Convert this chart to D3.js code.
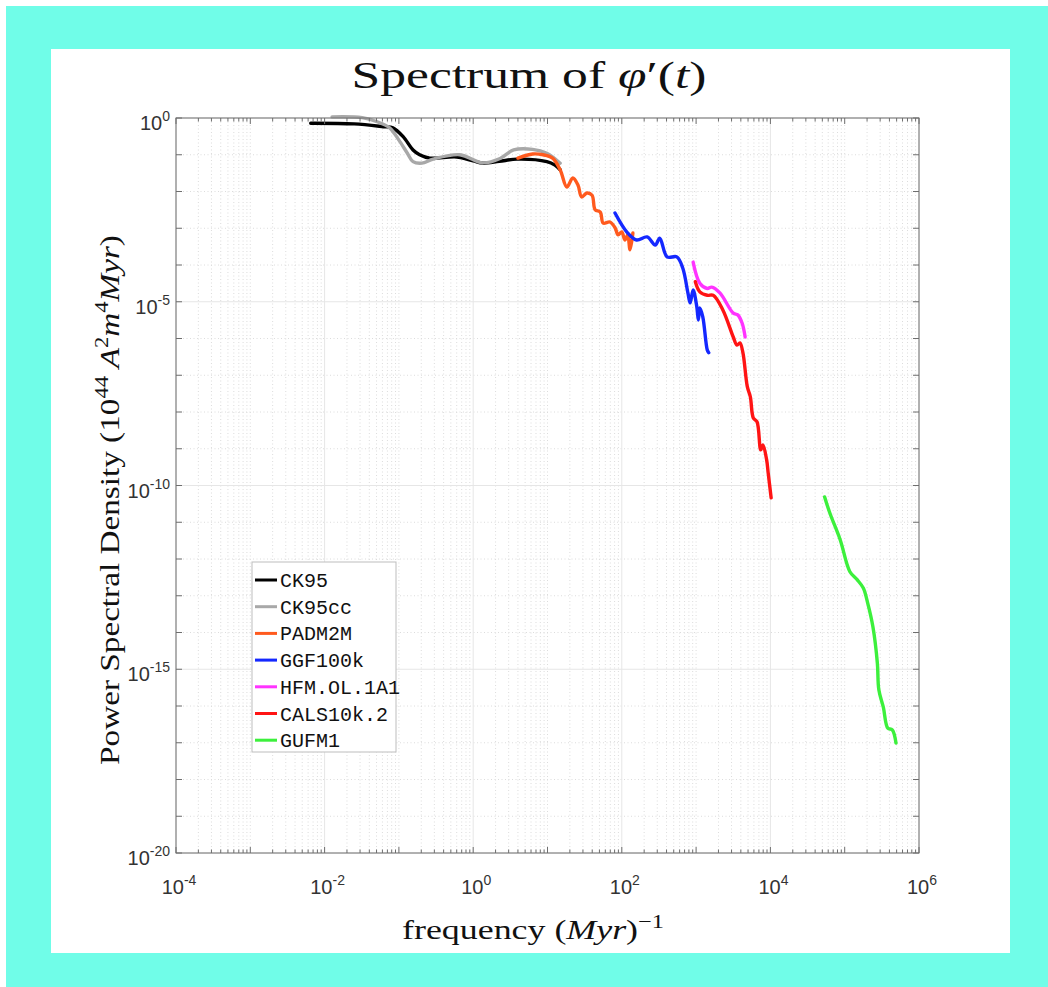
<!DOCTYPE html>
<html>
<head>
<meta charset="utf-8">
<script src="https://cdn.jsdelivr.net/npm/d3@7"></script>
<style>
  html, body { margin: 0; padding: 0; background: #fff; }
  svg { display: block; }
</style>
</head>
<body>
<svg id="chart"></svg>
<script>
// values (frequency in 1/Myr, PSD)
const seriesNames = ["CK95", "CK95cc", "PADM2M", "GGF100k", "HFM.OL.1A1", "CALS10k.2", "GUFM1"];
const seriesColors = ["#000000", "#a8a8a8", "#ff5a1e", "#1428ff", "#ff33ff", "#ff1414", "#3cf03c"];

const freqCK95 = [0.0065, 0.025, 0.062, 0.083, 0.114, 0.155, 0.19, 0.26, 0.6, 1.0, 1.35, 2.24, 3.9, 9.8, 12.6, 14.8];
const psdCK95  = [0.72, 0.69, 0.58, 0.54, 0.31, 0.135, 0.1, 0.081, 0.087, 0.068, 0.059, 0.066, 0.076, 0.065, 0.052, 0.039];

const freqCK95cc = [0.0126, 0.032, 0.051, 0.075, 0.1, 0.13, 0.155, 0.204, 0.29, 0.66, 1.35, 2.3, 3.5, 6.3, 9.8, 14.8];
const psdCK95cc  = [1.07, 1.02, 0.79, 0.54, 0.25, 0.11, 0.065, 0.059, 0.076, 0.1, 0.06, 0.079, 0.135, 0.14, 0.11, 0.059];

const freqPADM2M = [4.0, 6.3, 8.7, 11.7, 14.8, 18.2, 21.9, 25.7, 28.8, 33.9, 39.8, 43.7, 51.3, 56.2, 69.2, 81.3, 89.1, 100, 110, 120, 129, 141];
const psdPADM2M  = [0.081, 0.105, 0.10, 0.081, 0.039, 0.0132, 0.0234, 0.0151, 0.0071, 0.0091, 0.0079, 0.0032, 0.00275, 0.00138, 0.00148, 0.00102, 0.00066, 0.00079, 0.00048, 0.00066, 0.00026, 0.00074];

const freqGGF100k = [81, 117, 158, 219, 282, 324, 407, 550, 661, 776, 832, 912, 1023, 1072, 1122, 1230, 1413, 1479];
const psdGGF100k  = [0.0026, 0.00079, 0.00048, 0.00058, 0.00035, 0.00054, 0.000166, 0.000166, 8.3e-5, 1.74e-5, 9.3e-6, 2.1e-5, 7.2e-6, 3.2e-6, 6.8e-6, 3.9e-6, 4.9e-7, 4.1e-7];

const freqHFM = [912, 1122, 1413, 1622, 2089, 3162, 3631, 4169, 4571];
const psdHFM  = [1.2e-4, 3.2e-5, 2.3e-5, 2.5e-5, 1.74e-5, 4.9e-6, 4.4e-6, 2.6e-6, 1.1e-6];

const freqCALS = [977, 1122, 1413, 1698, 2291, 3162, 3548, 3890, 4266, 4898, 5370, 5888, 6607, 7413, 7943, 8913, 9333, 10233];
const psdCALS  = [3.5e-5, 1.86e-5, 1.5e-5, 1.5e-5, 6.0e-6, 1.1e-6, 6.6e-7, 7.6e-7, 4.1e-7, 4.8e-8, 2.6e-8, 6.9e-9, 5.4e-9, 9.3e-10, 1.26e-9, 4.9e-10, 2.2e-10, 4.6e-11];

const freqGUFM1 = [53700, 63100, 87100, 117500, 148000, 178000, 204000, 240000, 275000, 288000, 331000, 380000, 437000, 490000];
const psdGUFM1  = [4.9e-11, 1.78e-11, 3.3e-12, 4.5e-13, 2.7e-13, 1.62e-13, 6.3e-14, 1.41e-14, 1.48e-15, 2.75e-16, 9.3e-17, 2.5e-17, 2.24e-17, 9.8e-18];

const xTickExps = [-4, -2, 0, 2, 4, 6];
const yTickExps = [0, -5, -10, -15, -20];

const allFreq = [freqCK95, freqCK95cc, freqPADM2M, freqGGF100k, freqHFM, freqCALS, freqGUFM1];
const allPsd = [psdCK95, psdCK95cc, psdPADM2M, psdGGF100k, psdHFM, psdCALS, psdGUFM1];

const series = seriesNames.map((name, i) => ({
    name: name,
    color: seriesColors[i],
    points: allFreq[i].map((f, j) => [f, allPsd[i][j]])
}));

const width = 1048, height = 987;
const margin = { top: 118, right: 129, bottom: 134, left: 176 };

const svg = d3.select("#chart")
    .attr("width", width)
    .attr("height", height);

// frame
svg.append("rect").attr("width", width).attr("height", height).attr("fill", "#fff");
svg.append("rect").attr("x", 6).attr("y", 6).attr("width", width - 6).attr("height", height - 6).attr("fill", "#70fde8");
svg.append("rect").attr("x", 51).attr("y", 49).attr("width", 959).attr("height", 904).attr("fill", "#fff");

const x = d3.scaleLog().domain([1e-4, 1e6]).range([margin.left, width - margin.right]);
const y = d3.scaleLog().domain([1e-20, 1]).range([height - margin.bottom, margin.top]);

const x0 = x.range()[0], x1 = x.range()[1];
const y0 = y.range()[0], y1 = y.range()[1];

// grid
const xMinor = [], xMajor = [];
for (let k = -4; k < 6; k++) {
    for (let m = 1; m <= 9; m++) {
        const v = m * Math.pow(10, k);
        if (m === 1 && k % 2 === 0) xMajor.push(v); else xMinor.push(v);
    }
}
xMajor.push(1e6);
const yMinor = [], yMajor = [];
for (let k = -20; k <= 0; k++) {
    if (k % 5 === 0) yMajor.push(Math.pow(10, k)); else yMinor.push(Math.pow(10, k));
}

const grid = svg.append("g");
grid.selectAll(".xminor").data(xMinor).join("line")
    .attr("x1", d => x(d)).attr("x2", d => x(d))
    .attr("y1", y1).attr("y2", y0)
    .attr("stroke", "#dcdcdc").attr("stroke-width", 1).attr("stroke-dasharray", "1,2.5");
grid.selectAll(".yminor").data(yMinor).join("line")
    .attr("x1", x0).attr("x2", x1)
    .attr("y1", d => y(d)).attr("y2", d => y(d))
    .attr("stroke", "#dcdcdc").attr("stroke-width", 1).attr("stroke-dasharray", "1,2.5");
grid.selectAll(".xmajor").data(xMajor).join("line")
    .attr("x1", d => x(d)).attr("x2", d => x(d))
    .attr("y1", y1).attr("y2", y0)
    .attr("stroke", "#e6e6e6").attr("stroke-width", 1);
grid.selectAll(".ymajor").data(yMajor).join("line")
    .attr("x1", x0).attr("x2", x1)
    .attr("y1", d => y(d)).attr("y2", d => y(d))
    .attr("stroke", "#e6e6e6").attr("stroke-width", 1);

// curves
const line = d3.line()
    .x(d => x(d[0]))
    .y(d => y(d[1]))
    .curve(d3.curveCatmullRom.alpha(0.5));

svg.append("g").selectAll("path").data(series).join("path")
    .attr("d", d => line(d.points))
    .attr("fill", "none")
    .attr("stroke", d => d.color)
    .attr("stroke-width", 3.4)
    .attr("stroke-linejoin", "round")
    .attr("stroke-linecap", "round");

// box + ticks
const axisColor = "#6e6e6e";
const axes = svg.append("g").attr("stroke", axisColor).attr("stroke-width", 1);
axes.append("rect")
    .attr("x", x0).attr("y", y1)
    .attr("width", x1 - x0).attr("height", y0 - y1)
    .attr("fill", "none");

const xTickAll = xMinor.concat(xMajor);
const xLen = d => Number.isInteger(Math.log10(d)) ? 6 : 3.5;
axes.selectAll(".xtb").data(xTickAll).join("line")
    .attr("x1", d => x(d)).attr("x2", d => x(d))
    .attr("y1", y0).attr("y2", d => y0 - xLen(d));
axes.selectAll(".xtt").data(xTickAll).join("line")
    .attr("x1", d => x(d)).attr("x2", d => x(d))
    .attr("y1", y1).attr("y2", d => y1 + xLen(d));
const yTickAll = yMinor.concat(yMajor);
axes.selectAll(".ytl").data(yTickAll).join("line")
    .attr("x1", x0).attr("x2", x0 + 6)
    .attr("y1", d => y(d)).attr("y2", d => y(d));
axes.selectAll(".ytr").data(yTickAll).join("line")
    .attr("x1", x1).attr("x2", x1 - 6)
    .attr("y1", d => y(d)).attr("y2", d => y(d));

// tick labels
const labelFont = "'Liberation Sans', Arial, sans-serif";
function powLabel(sel, e) {
    sel.append("tspan").text("10");
    sel.append("tspan").attr("dy", -9).attr("font-size", 14).text(e);
}
svg.append("g").selectAll("text").data(xTickExps).join("text")
    .attr("x", d => x(Math.pow(10, d)) + 3)
    .attr("y", y0 + 41)
    .attr("text-anchor", "middle")
    .attr("font-family", labelFont)
    .attr("font-size", 20)
    .attr("fill", "#333")
    .each(function(d) { powLabel(d3.select(this), String(d)); });

svg.append("g").selectAll("text").data(yTickExps).join("text")
    .attr("x", x0 - 6)
    .attr("y", d => y(Math.pow(10, d)) + 12)
    .attr("text-anchor", "end")
    .attr("font-family", labelFont)
    .attr("font-size", 20)
    .attr("fill", "#333")
    .each(function(d) { powLabel(d3.select(this), String(d)); });

// fit a text horizontally to a measured width
function fitText(sel, cx, cy, rot, target) {
    const w = sel.node().getComputedTextLength();
    sel.attr("transform", `translate(${cx},${cy}) rotate(${rot}) scale(${target / w},1)`);
}

const serif = "'Liberation Serif', 'Times New Roman', serif";

const title = svg.append("text")
    .attr("text-anchor", "middle")
    .attr("font-family", serif)
    .attr("font-size", 39)
    .attr("fill", "#111");
title.append("tspan").text("Spectrum of ");
title.append("tspan").attr("font-style", "italic").text("φ");
title.append("tspan").text("′(");
title.append("tspan").attr("font-style", "italic").text("t");
title.append("tspan").text(")");
fitText(title, 529, 88, 0, 355);

const xLabel = svg.append("text")
    .attr("text-anchor", "middle")
    .attr("font-family", serif)
    .attr("font-size", 28)
    .attr("fill", "#111");
xLabel.append("tspan").text("frequency (");
xLabel.append("tspan").attr("font-style", "italic").text("Myr");
xLabel.append("tspan").text(")");
xLabel.append("tspan").attr("dy", -11).attr("font-size", 19).text("−1");
fitText(xLabel, 533, 939, 0, 262);

const yLabel = svg.append("text")
    .attr("text-anchor", "middle")
    .attr("font-family", serif)
    .attr("font-size", 28)
    .attr("fill", "#111");
yLabel.append("tspan").text("Power Spectral Density (10");
yLabel.append("tspan").attr("dy", -11).attr("font-size", 19).text("44");
yLabel.append("tspan").attr("dy", 11).attr("font-style", "italic").text(" A");
yLabel.append("tspan").attr("dy", -11).attr("font-size", 19).text("2");
yLabel.append("tspan").attr("dy", 11).attr("font-style", "italic").text("m");
yLabel.append("tspan").attr("dy", -11).attr("font-size", 19).text("4");
yLabel.append("tspan").attr("dy", 11).attr("font-style", "italic").text("Myr");
yLabel.append("tspan").text(")");
fitText(yLabel, 119, 500, -90, 530);

// legend
const legend = svg.append("g").attr("transform", "translate(252,562)");
legend.append("rect")
    .attr("width", 144).attr("height", 190)
    .attr("fill", "#fff").attr("stroke", "#bdbdbd").attr("stroke-width", 1);
const rows = legend.selectAll("g").data(series).join("g")
    .attr("transform", (d, i) => `translate(0,${18 + i * 26.7})`);
rows.append("line")
    .attr("x1", 3).attr("x2", 25)
    .attr("stroke", d => d.color).attr("stroke-width", 3);
rows.append("text")
    .attr("x", 28).attr("y", 7)
    .attr("font-family", "'Liberation Mono', 'Courier New', monospace")
    .attr("font-size", 20)
    .attr("fill", "#111")
    .text(d => d.name);
</script>
</body>
</html>
